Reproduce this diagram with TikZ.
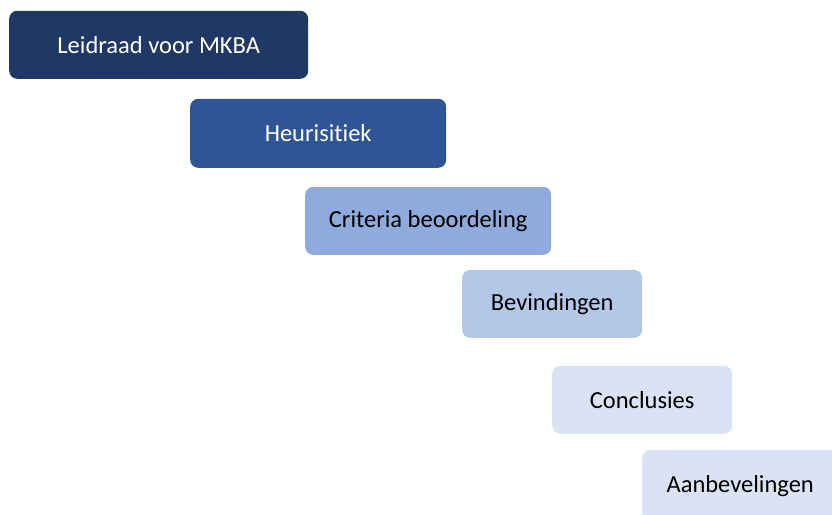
\documentclass[tikz,border=0pt]{standalone}
\usepackage{fontspec}
\setmainfont[Ligatures={NoCommon,NoRare}]{Carlito}
\definecolor{c1}{HTML}{203864}
\definecolor{c2}{HTML}{2F5597}
\definecolor{c3}{HTML}{8FAADC}
\definecolor{c4}{HTML}{B4C7E7}
\definecolor{c5}{HTML}{DAE3F3}
\tikzset{
  stepbox/.style={rectangle, rounded corners=8pt, inner sep=0pt, font=\fontsize{24.5}{28}\selectfont, anchor=south west},
}
\begin{document}
\begin{tikzpicture}[x=1pt,y=-1pt]
\useasboundingbox (0,0) rectangle (832,514);
\clip (0,0) rectangle (832,514);
\node[stepbox, fill=c1, text=white, minimum width=299pt, minimum height=68pt] (a) at (9,79) {Leidraad voor MKBA};
\node[stepbox, fill=c2, text=white, minimum width=256pt, minimum height=69pt] (b) at (190,168) {Heurisitiek};
\node[stepbox, fill=c3, text=black, minimum width=246pt, minimum height=68pt] (c) at (305,255) {Criteria beoordeling};
\node[stepbox, fill=c4, text=black, minimum width=180pt, minimum height=68pt] (d) at (462,338) {Bevindingen};
\node[stepbox, fill=c5, text=black, minimum width=180pt, minimum height=68pt] (e) at (552,434) {Conclusies};
\node[stepbox, fill=c5, text=black, minimum width=196pt, minimum height=72pt] (f) at (642,522) {Aanbevelingen};
\end{tikzpicture}
\end{document}
